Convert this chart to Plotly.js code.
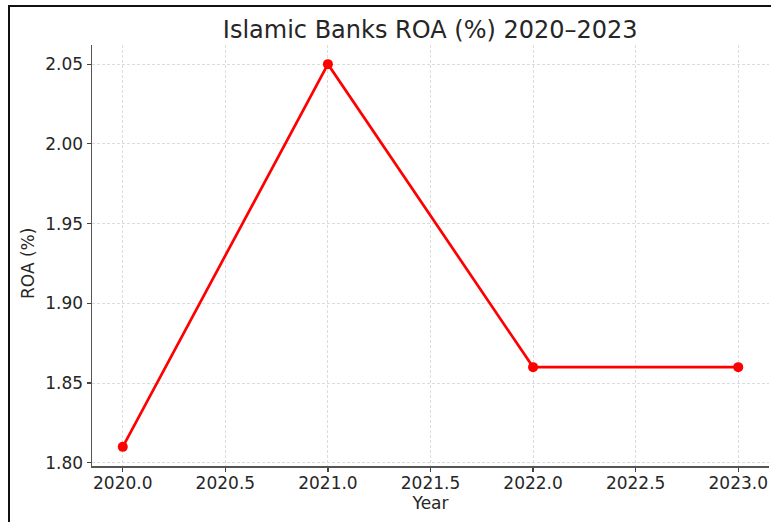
<!DOCTYPE html>
<html>
<head>
<meta charset="utf-8">
<script src="https://cdn.plot.ly/plotly-3.0.1.min.js"></script>
<style>
  html, body { margin: 0; padding: 0; background: #fff; }
  #wrap { position: relative; width: 771px; height: 522px; overflow: hidden; }
  #chart { position: absolute; left: 0; top: 0; width: 771px; height: 522px; }
  #frame { position: absolute; left: 8px; top: 5px; width: 800px; height: 600px;
           border-top: 2px solid #111; border-left: 2px solid #111; pointer-events: none; }
</style>
</head>
<body>
<div id="wrap">
  <div id="chart"></div>
  <div id="frame"></div>
</div>
<script>
const years = [2020, 2021, 2022, 2023];
const roa = [1.81, 2.05, 1.86, 1.86];
const xTicks = [2020.0, 2020.5, 2021.0, 2021.5, 2022.0, 2022.5, 2023.0];
const xTickLabels = ["2020.0", "2020.5", "2021.0", "2021.5", "2022.0", "2022.5", "2023.0"];
const yTicks = [1.80, 1.85, 1.90, 1.95, 2.00, 2.05];
const yTickLabels = ["1.80", "1.85", "1.90", "1.95", "2.00", "2.05"];

const font = "DejaVu Sans, Verdana, sans-serif";
const txt = "#262626";

const trace = {
  x: years,
  y: roa,
  type: "scatter",
  mode: "lines+markers",
  line: { color: "#ff0000", width: 2.7 },
  marker: { color: "#ff0000", size: 10 },
  hoverinfo: "skip"
};

const layout = {
  width: 771,
  height: 522,
  margin: { l: 92, r: 2, t: 45, b: 56 },
  paper_bgcolor: "#ffffff",
  plot_bgcolor: "#ffffff",
  showlegend: false,
  font: { family: font, color: txt, size: 17 },
  title: {
    text: "Islamic Banks ROA (%) 2020–2023",
    font: { family: font, size: 24, color: txt },
    x: 0.558, xanchor: "center",
    y: 0.943, yanchor: "middle"
  },
  xaxis: {
    range: [2019.85, 2023.15],
    tickvals: xTicks,
    ticktext: xTickLabels,
    tickfont: { family: font, size: 17, color: txt },
    ticks: "outside", ticklen: 4, tickwidth: 1.2, tickcolor: "#444",
    ticklabelstandoff: -3,
    showline: true, linecolor: "#555", linewidth: 1.5,
    showgrid: true, gridcolor: "#dcdcdc", gridwidth: 1, griddash: "3px,2px",
    zeroline: false,
    title: { text: "Year", font: { family: font, size: 17, color: txt }, standoff: 2 }
  },
  yaxis: {
    range: [1.798, 2.062],
    tickvals: yTicks,
    ticktext: yTickLabels,
    tickfont: { family: font, size: 17, color: txt },
    ticks: "outside", ticklen: 4, tickwidth: 1.2, tickcolor: "#444",
    showline: true, linecolor: "#555", linewidth: 1.5,
    showgrid: true, gridcolor: "#dcdcdc", gridwidth: 1, griddash: "3px,2px",
    zeroline: false
  },
  annotations: [{
    text: "ROA (%)",
    xref: "paper", yref: "paper",
    x: (28 - 92) / 677, y: (466 - 264) / 421,
    xanchor: "center", yanchor: "middle",
    textangle: -90, showarrow: false,
    font: { family: font, size: 17, color: txt }
  }]
};

Plotly.newPlot("chart", [trace], layout, { displayModeBar: false, staticPlot: true });
</script>
</body>
</html>
